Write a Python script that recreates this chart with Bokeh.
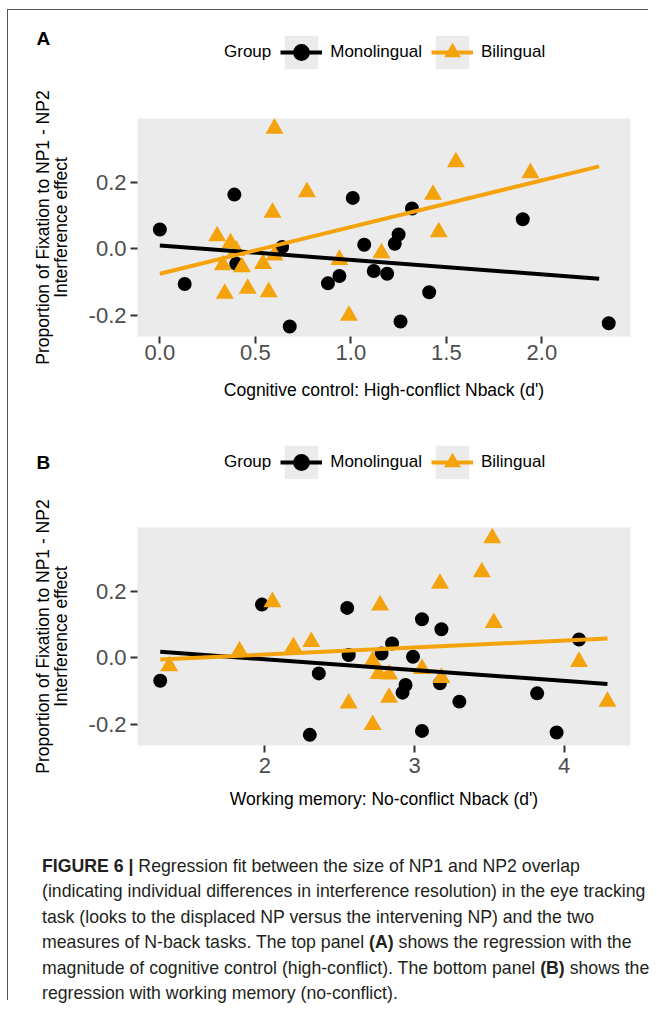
from bokeh.plotting import figure
from bokeh.layouts import column
from bokeh.models import (FixedTicker, PrintfTickFormatter, Legend, LegendItem,
                          Label, Div, Range1d)
from bokeh.embed import file_html
from bokeh.resources import INLINE

# ---------------- data ----------------
group_labels = ["Monolingual", "Bilingual"]
legend_title = "Group"

# Panel A: Cognitive control (high-conflict N-back d')
mono_a_x = [0.00, 0.13, 0.39, 0.40, 0.64, 0.68, 0.88, 0.94, 1.01, 1.07,
            1.12, 1.19, 1.23, 1.25, 1.26, 1.32, 1.41, 1.90, 2.35]
mono_a_y = [0.058, -0.106, 0.163, -0.045, 0.005, -0.234, -0.104, -0.082, 0.153, 0.012,
            -0.067, -0.075, 0.015, 0.043, -0.219, 0.121, -0.131, 0.089, -0.224]
bil_a_x = [0.60, 1.55, 1.94, 0.77, 1.43, 0.59, 1.46, 0.30, 0.37, 0.33,
           0.43, 0.54, 0.34, 0.46, 0.57, 0.94, 1.16, 0.99, 0.40, 0.60]
bil_a_y = [0.362, 0.261, 0.228, 0.171, 0.163, 0.109, 0.050, 0.038, 0.017, -0.049,
           -0.055, -0.045, -0.135, -0.120, -0.130, -0.033, -0.013, -0.201, -0.005, -0.020]
fit_a_x = [0.0, 2.30]
fit_a_mono = [0.010, -0.090]
fit_a_bil = [-0.075, 0.248]

# Panel B: Working memory (no-conflict N-back d')
mono_b_x = [1.30, 1.98, 2.36, 2.30, 2.55, 2.56, 2.78, 2.85, 2.94, 2.92,
            2.99, 3.05, 3.05, 3.18, 3.17, 3.30, 3.82, 3.95, 4.10]
mono_b_y = [-0.069, 0.160, -0.047, -0.232, 0.150, 0.008, 0.013, 0.043, -0.082, -0.105,
            0.003, 0.116, -0.220, 0.086, -0.077, -0.132, -0.107, -0.225, 0.055]
bil_b_x = [3.52, 3.45, 3.17, 2.05, 2.77, 3.53, 2.31, 2.19, 1.83, 4.10,
           1.36, 2.72, 3.05, 2.76, 2.83, 3.18, 2.83, 2.56, 4.29, 2.72]
bil_b_y = [0.360, 0.258, 0.223, 0.168, 0.158, 0.105, 0.048, 0.033, 0.020, -0.012,
           -0.025, -0.010, -0.033, -0.048, -0.050, -0.060, -0.120, -0.137, -0.132, -0.202]
fit_b_x = [1.30, 4.29]
fit_b_mono = [0.018, -0.079]
fit_b_bil = [-0.005, 0.058]

y_ticks = [-0.2, 0.0, 0.2]
x_ticks_a = [0.0, 0.5, 1.0, 1.5, 2.0]
x_ticks_b = [2, 3, 4]

y_title = "Proportion of Fixation to NP1 - NP2\nInterference effect"
x_title_a = "Cognitive control: High-conflict Nback (d')"
x_title_b = "Working memory: No-conflict Nback (d')"

caption_lines = [
    "Regression fit between the size of NP1 and NP2 overlap",
    "(indicating individual differences in interference resolution) in the eye tracking",
    "task (looks to the displaced NP versus the intervening NP) and the two",
    "measures of N-back tasks. The top panel <b>(A)</b> shows the regression with the",
    "magnitude of cognitive control (high-conflict). The bottom panel <b>(B)</b> shows the",
    "regression with working memory (no-conflict).",
]

# ---------------- style ----------------
FONT = "Liberation Sans"
ORANGE = "#F5A30C"
PANEL_BG = "#EBEBEB"
KEY_BG = "#EBEBEB"
W = 640


def make_strip(tag, tag_y, mx, my, bx, by, fx, fm, fb):
    """Header strip holding the panel letter and the horizontal legend.
    Its renderers carry the panel's series but lie outside the strip's
    (empty) ranges, so only their legend keys are visible."""
    s = figure(width=W, height=70, x_range=Range1d(100, 101), y_range=Range1d(100, 101),
               x_axis_location=None, y_axis_location=None,
               output_backend="svg", toolbar_location=None,
               min_border=0, margin=(0, 0, 0, 0), frame_align=False,
               background_fill_color="white", border_fill_color="white")
    s.outline_line_color = None
    s.grid.visible = False
    key_bg = s.quad(left=fx, right=fx, bottom=fm, top=fm, fill_color=KEY_BG,
                    line_color=None)
    dummy = s.scatter(mx, my, fill_alpha=0, line_alpha=0)
    l_m = s.line(fx, fm, line_color="black", line_width=4)
    l_b = s.line(fx, fb, line_color=ORANGE, line_width=4)
    m_m = s.scatter(mx, my, marker="circle", fill_color="black", line_color=None)
    m_b = s.scatter(bx, by, marker="triangle", fill_color=ORANGE, line_color=None)
    legend = Legend(items=[
        LegendItem(label=legend_title, renderers=[dummy]),
        LegendItem(label=group_labels[0], renderers=[key_bg, l_m, m_m]),
        LegendItem(label=group_labels[1], renderers=[key_bg, l_b, m_b]),
    ], orientation="horizontal", location=(166, 7),
        glyph_width=42, glyph_height=42, label_standoff=8, spacing=9,
        padding=0, margin=0, border_line_color=None, background_fill_alpha=0,
        label_text_font=FONT, label_text_font_size="17px",
        label_text_color="black")
    s.add_layout(legend)
    s.add_layout(Label(x=28, y=tag_y, x_units="screen", y_units="screen",
                       text=tag, text_font=FONT, text_font_size="19px",
                       text_font_style="bold", text_baseline="middle",
                       text_align="left", text_color="black"))
    return s


def make_panel(mx, my, bx, by, fx, fm, fb, xr, yr, xticks, xfmt, xtitle,
               top_border, bottom_border, lab_standoff, title_standoff):
    p = figure(frame_width=493, frame_height=218,
               x_range=Range1d(*xr), y_range=Range1d(*yr),
               output_backend="svg", toolbar_location=None,
               min_border_left=129, min_border_right=W - 129 - 493,
               min_border_top=top_border, min_border_bottom=bottom_border,
               background_fill_color=PANEL_BG, border_fill_color="white",
               margin=(0, 0, 0, 0), frame_align=False)
    p.outline_line_color = None
    p.grid.visible = False

    p.scatter(mx, my, marker="circle", size=14, fill_color="black", line_color=None)
    p.scatter(bx, by, marker="triangle", size=18, fill_color=ORANGE, line_color=None)
    p.line(fx, fm, line_color="black", line_width=4)
    p.line(fx, fb, line_color=ORANGE, line_width=4)

    for ax in (p.xaxis[0], p.yaxis[0]):
        ax.axis_line_color = None
        ax.major_tick_line_color = "#333333"
        ax.major_tick_line_width = 2
        ax.major_tick_in = 0
        ax.major_tick_out = 7
        ax.minor_tick_line_color = None
        ax.major_label_text_font = FONT
        ax.major_label_text_font_size = "22px"
        ax.major_label_text_color = "#4D4D4D"
        ax.axis_label_text_font = FONT
        ax.axis_label_text_font_size = "17.5px"
        ax.axis_label_text_font_style = "normal"
        ax.axis_label_text_color = "black"

    p.xaxis.ticker = FixedTicker(ticks=xticks)
    p.xaxis.formatter = PrintfTickFormatter(format=xfmt)
    p.xaxis.major_label_standoff = lab_standoff
    p.xaxis.axis_label = xtitle
    p.xaxis.axis_label_standoff = title_standoff

    p.yaxis.ticker = FixedTicker(ticks=y_ticks)
    p.yaxis.formatter = PrintfTickFormatter(format="%.1f")
    p.yaxis.major_label_standoff = 4
    p.yaxis.axis_label = y_title
    p.yaxis.axis_label_standoff = 15
    p.yaxis.axis_label_text_line_height = 0.9
    return p


sA = make_strip("A", 42, mono_a_x, mono_a_y, bil_a_x, bil_a_y, fit_a_x, fit_a_mono, fit_a_bil)
pA = make_panel(mono_a_x, mono_a_y, bil_a_x, bil_a_y, fit_a_x, fit_a_mono,
                fit_a_bil, (-0.117, 2.464), (-0.264, 0.392), x_ticks_a, "%.1f",
                x_title_a, 38, 84, 1, 17)
sB = make_strip("B", 28, mono_b_x, mono_b_y, bil_b_x, bil_b_y, fit_b_x, fit_b_mono, fit_b_bil)
pB = make_panel(mono_b_x, mono_b_y, bil_b_x, bil_b_y, fit_b_x, fit_b_mono,
                fit_b_bil, (1.148, 4.444), (-0.264, 0.392), x_ticks_b, "%d",
                x_title_b, 37, 85, 5, 13)

caption_html = (
    "<div style=\"font-family:'Liberation Sans',Arial,sans-serif;font-size:17.7px;"
    "line-height:25.4px;color:#231F20;white-space:nowrap;padding-left:34px;"
    "padding-top:24px;\"><b>FIGURE 6 |</b> "
    + "<br>".join(caption_lines) + "</div>"
)
cap = Div(text=caption_html, width=W, height=170, margin=(0, 0, 0, 0))

layout = column(sA, pA, sB, pB, cap, spacing=0, margin=(9, 0, 0, 7),
                styles={"border-left": "1px solid #555555",
                        "border-top": "1px solid #555555"})

open("out.html", "w").write(file_html(layout, INLINE))
